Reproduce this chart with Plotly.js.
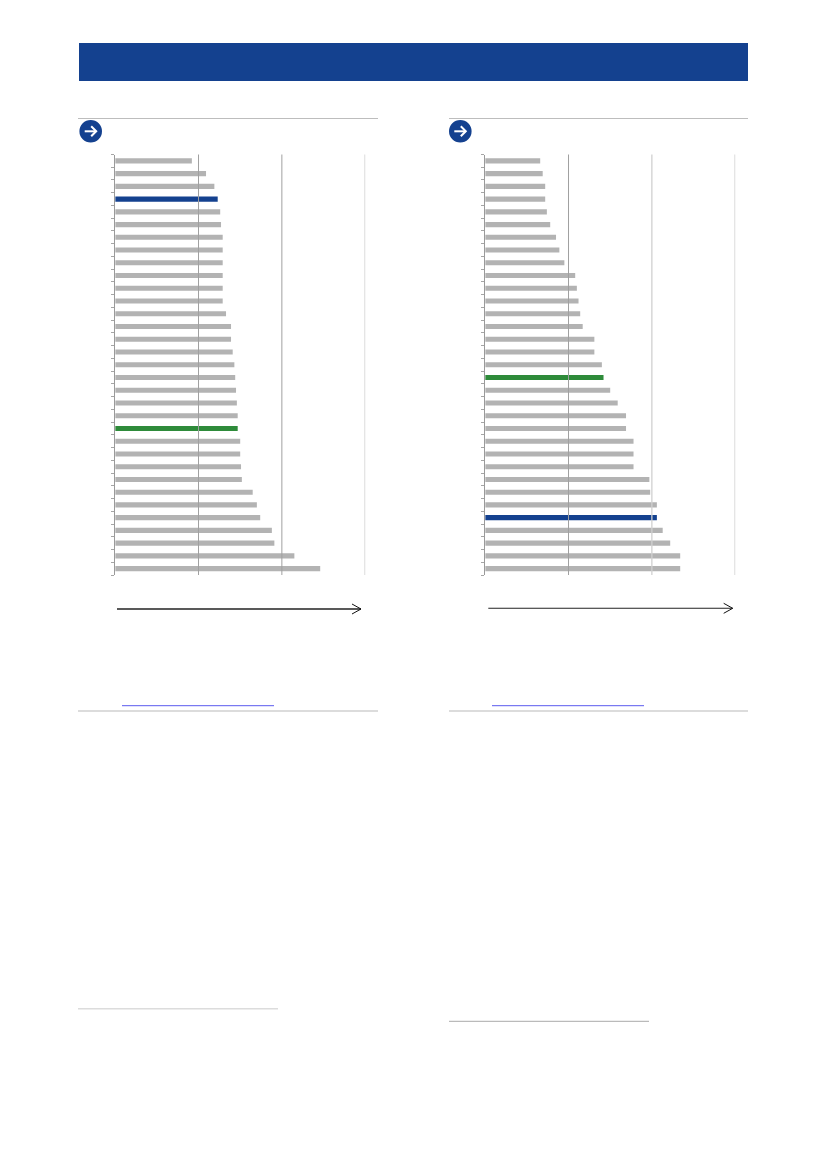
<!DOCTYPE html>
<html>
<head>
<meta charset="utf-8">
<script src="https://cdn.plot.ly/plotly-3.0.1.min.js"></script>
<style>html,body{margin:0;padding:0;background:#fff}#chart{width:826px;height:1169px}</style>
</head>
<body>
<div id="chart"></div>
<script>
// Values (axis has three unlabelled intervals, taken as 0–30)
const leftValues = [9.2,10.9,11.9,12.3,12.6,12.7,12.9,12.9,12.9,12.9,12.9,12.9,13.3,13.9,13.9,14.1,14.3,14.4,14.5,14.6,14.7,14.7,15.0,15.0,15.1,15.2,16.5,17.0,17.4,18.8,19.1,21.5,24.6];
const rightValues = [6.6,6.9,7.2,7.2,7.4,7.8,8.5,8.9,9.5,10.8,11.0,11.2,11.4,11.7,13.1,13.1,14.0,14.2,15.0,15.9,16.9,16.9,17.8,17.8,17.8,19.7,19.8,20.6,20.6,21.3,22.2,23.4,23.4];
const leftBlueIndex = 3, leftGreenIndex = 21;
const rightBlueIndex = 28, rightGreenIndex = 17;
const gridValues = [10, 20, 30];
const GREY = '#b3b3b3', BLUE = '#14418f', GREEN = '#2e8b3a';

const W = 826, H = 1169;
const px = x => x / W, py = y => 1 - y / H;

function colours(values, blue, green) {
  return values.map((_, i) => i === blue ? BLUE : i === green ? GREEN : GREY);
}
function barTrace(values, blue, green, xa, ya) {
  return {
    type: 'bar', orientation: 'h', xaxis: xa, yaxis: ya,
    y: values.map((_, i) => i), x: values, width: 0.4,
    marker: {color: colours(values, blue, green), line: {width: 0}},
    hoverinfo: 'skip', showlegend: false
  };
}
function xAxis(x0, x1, anchor) {
  return {domain: [px(x0), px(x1)], range: [0, 30], anchor: anchor,
    showgrid: false, zeroline: false, showline: false, ticks: '', showticklabels: false};
}
function yAxis(anchor) {
  return {domain: [py(575), py(154.5)], range: [32.5, -0.5], anchor: anchor,
    tick0: -0.5, dtick: 1, ticks: 'outside', ticklen: 3, tickwidth: 1, tickcolor: '#a6a6a6',
    showline: true, linecolor: '#9a9a9a', linewidth: 1, zeroline: false,
    showgrid: false, showticklabels: false};
}
const shapes = [];
function rect(x0, y0, x1, y1, fill) {
  shapes.push({type: 'rect', xref: 'paper', yref: 'paper', x0: px(x0), x1: px(x1), y0: py(y0), y1: py(y1),
    fillcolor: fill, line: {width: 0}});
}
function rule(x0, x1, y, color, width) {
  shapes.push({type: 'line', xref: 'paper', yref: 'paper', x0: px(x0), x1: px(x1), y0: py(y), y1: py(y),
    line: {color: color, width: width}});
}
function pathAt(points, color, width) {
  const d = points.map((p, i) => (i ? 'L' : 'M') + px(p[0]) + ',' + py(p[1])).join(' ');
  shapes.push({type: 'path', xref: 'paper', yref: 'paper', path: d, line: {color: color, width: width}});
}
function circleIcon(cx, cy) {
  const r = 11.3;
  shapes.push({type: 'circle', xref: 'paper', yref: 'paper', x0: px(cx - r), x1: px(cx + r), y0: py(cy + r), y1: py(cy - r),
    fillcolor: BLUE, line: {width: 0}});
  pathAt([[cx - 6, cy], [cx + 5.5, cy]], '#fff', 2);
  pathAt([[cx + 0.5, cy - 5], [cx + 5.5, cy], [cx + 0.5, cy + 5]], '#fff', 2);
}
function longArrow(x0, x1, y, width) {
  pathAt([[x0, y], [x1, y]], '#222', width);
  pathAt([[x1 - 9, y - 5], [x1, y], [x1 - 9, y + 5]], '#111', 1);
}
function gridLines(xa, colors, widths) {
  gridValues.forEach((v, i) => shapes.push({type: 'line', layer: 'above', xref: xa, yref: 'paper',
    x0: v, x1: v, y0: py(575), y1: py(154.5), line: {color: colors[i], width: widths[i]}}));
}

rect(79, 43, 748, 81, BLUE);
[[78, 378, 90.7, 117, 361, 609, 122, 274, 1.4], [449, 748, 460.3, 488.3, 732.7, 608.3, 492, 644, 1.1]].forEach(c => {
  rule(c[0], c[1], 118.5, '#bdbdbd', 1);
  rule(c[0], c[1], 711, '#d0d0d0', 1.5);
  rule(c[6], c[7], 705.7, '#5a5aee', 1);
  circleIcon(c[2], 131.3);
  longArrow(c[3], c[4], c[5], c[8]);
});
rule(78, 278, 1008.7, '#dcdcdc', 1.5);
rule(449, 649, 1021.3, '#a9a9a9', 1);
gridLines('x', ['#a0a0a0', '#a0a0a0', '#cfcfcf'], [1, 1, 1.5]);
gridLines('x2', ['#a0a0a0', '#d0d0d0', '#cfcfcf'], [1, 1.3, 1.5]);

const layout = {
  width: W, height: H, margin: {l: 0, r: 0, t: 0, b: 0},
  paper_bgcolor: '#fff', plot_bgcolor: 'rgba(0,0,0,0)',
  bargap: 0.6, showlegend: false,
  xaxis: xAxis(115.2, 365.2, 'y'), yaxis: yAxis('x'),
  xaxis2: xAxis(485.2, 735.2, 'y2'), yaxis2: yAxis('x2'),
  shapes: shapes
};
Plotly.newPlot('chart', [
  barTrace(leftValues, leftBlueIndex, leftGreenIndex, 'x', 'y'),
  barTrace(rightValues, rightBlueIndex, rightGreenIndex, 'x2', 'y2')
], layout, {displayModeBar: false, staticPlot: true});
</script>
</body>
</html>
